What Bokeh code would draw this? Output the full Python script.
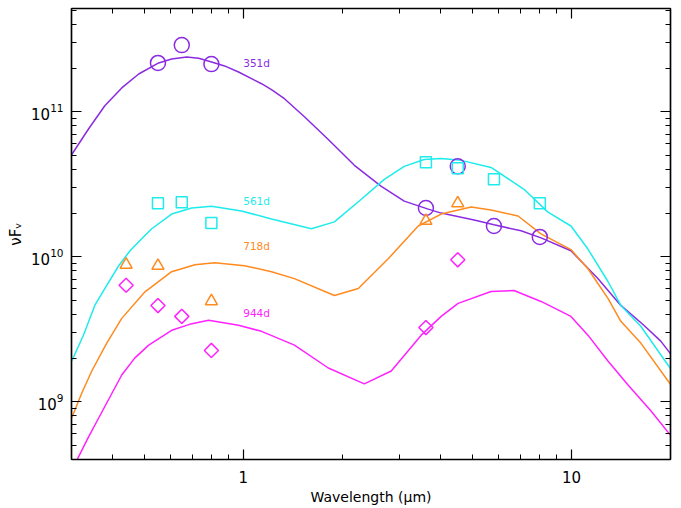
import math
from bokeh.plotting import figure
from bokeh.models import (Range1d, FixedTicker, LogAxis, LogTickFormatter,
                          NumeralTickFormatter, CustomJSTickFormatter)
from bokeh.core.properties import value
from bokeh.embed import file_html
from bokeh.resources import INLINE

# ---------------- data ----------------
epochs = ["351d", "561d", "718d", "944d"]
colors = ["#8A2BE2", "#1EEBEB", "#FF8A1E", "#FF22FF"]

# photometry
wl_351 = [0.55, 0.65, 0.80, 3.6, 4.5, 5.8, 8.0]
f_351 = [2.17e11, 2.88e11, 2.13e11, 2.17e10, 4.2e10, 1.63e10, 1.37e10]
wl_561 = [0.55, 0.65, 0.80, 3.6, 4.5, 5.8, 8.0]
f_561 = [2.34e10, 2.38e10, 1.71e10, 4.48e10, 4.07e10, 3.42e10, 2.34e10]
wl_718 = [0.44, 0.55, 0.80, 3.6, 4.5]
f_718 = [8.82e9, 8.67e9, 4.94e9, 1.77e10, 2.34e10]
wl_944 = [0.44, 0.55, 0.65, 0.80, 3.6, 4.5]
f_944 = [6.36e9, 4.61e9, 3.88e9, 2.26e9, 3.25e9, 9.53e9]

# model curves
mx_351 = [0.3006, 0.338, 0.3789, 0.4267, 0.4806, 0.5528, 0.6054, 0.6725, 0.7314,
          0.8010, 0.8774, 0.9676, 1.082, 1.137, 1.219, 1.335, 1.536, 1.816, 2.180,
          2.633, 3.092, 3.658, 4.006, 5.047, 5.805, 7.014, 8.067, 9.952, 12.02,
          14.12, 16.59, 18.68, 20.04]
my_351 = [5.07e10, 7.60e10, 1.10e11, 1.46e11, 1.82e11, 2.17e11, 2.31e11, 2.38e11,
          2.34e11, 2.20e11, 2.07e11, 1.88e11, 1.65e11, 1.56e11, 1.42e11, 1.23e11,
          9.24e10, 6.43e10, 4.27e10, 3.06e10, 2.42e10, 2.13e10, 2.00e10, 1.79e10,
          1.66e10, 1.51e10, 1.35e10, 1.10e10, 7.07e9, 4.62e9, 3.37e9, 2.62e9,
          2.13e9]
mx_561 = [0.3006, 0.3264, 0.3532, 0.3841, 0.4178, 0.4522, 0.4908, 0.5264, 0.6054,
          0.6965, 0.8010, 0.9881, 1.219, 1.613, 1.895, 2.289, 2.689, 3.092, 3.557,
          4.006, 4.607, 5.684, 7.161, 8.472, 9.952, 11.21, 12.90, 14.12, 16.24,
          20.04]
my_561 = [1.91e9, 2.89e9, 4.62e9, 6.35e9, 8.67e9, 1.10e10, 1.33e10, 1.56e10,
          1.97e10, 2.17e10, 2.23e10, 2.07e10, 1.82e10, 1.56e10, 1.74e10, 2.49e10,
          3.42e10, 4.20e10, 4.69e10, 4.76e10, 4.62e10, 4.13e10, 2.92e10, 2.03e10,
          1.63e10, 1.13e10, 6.75e9, 4.62e9, 3.32e9, 1.68e9]
mx_718 = [0.3006, 0.3225, 0.3458, 0.3841, 0.4267, 0.5022, 0.6054, 0.7127, 0.8180,
          1.009, 1.219, 1.432, 1.895, 2.241, 2.764, 3.411, 4.006, 4.943, 5.684,
          6.867, 8.067, 9.952, 11.21, 12.90, 14.12, 16.24, 20.04]
my_718 = [7.76e8, 1.15e9, 1.63e9, 2.54e9, 3.76e9, 5.73e9, 7.89e9, 8.81e9, 9.10e9,
          8.67e9, 7.89e9, 7.07e9, 5.41e9, 6.04e9, 9.69e9, 1.63e10, 1.97e10,
          2.20e10, 2.10e10, 1.91e10, 1.44e10, 1.12e10, 8.27e9, 5.16e9, 3.59e9,
          2.54e9, 1.31e9]
mx_944 = [0.3114, 0.3363, 0.3633, 0.4267, 0.4672, 0.5155, 0.6054, 0.6866, 0.7843,
          0.9676, 1.137, 1.432, 1.816, 2.337, 2.823, 3.483, 4.006, 4.511, 5.684,
          6.677, 8.067, 9.952, 11.21, 12.90, 14.83, 17.42, 20.04]
my_944 = [3.95e8, 5.59e8, 7.76e8, 1.53e9, 2.00e9, 2.46e9, 3.11e9, 3.42e9, 3.65e9,
          3.37e9, 3.06e9, 2.46e9, 1.71e9, 1.33e9, 1.63e9, 2.88e9, 3.88e9, 4.77e9,
          5.76e9, 5.85e9, 4.92e9, 3.88e9, 2.88e9, 1.91e9, 1.31e9, 8.67e8, 5.85e8]

label_x = 1.0
label_y = [2.17e11, 2.42e10, 1.19e10, 4.07e9]

x_major = [1, 10]
x_minor = [0.3, 0.4, 0.5, 0.6, 0.7, 0.8, 0.9, 2, 3, 4, 5, 6, 7, 8, 9, 20]
y_major = [1e9, 1e10, 1e11]
y_minor = [4e8, 5e8, 6e8, 7e8, 8e8, 9e8,
           2e9, 3e9, 4e9, 5e9, 6e9, 7e9, 8e9, 9e9,
           2e10, 3e10, 4e10, 5e10, 6e10, 7e10, 8e10, 9e10,
           2e11, 3e11, 4e11, 5e11]

# ---------------- figure ----------------
FONT = "DejaVu Sans"
p = figure(width=680, height=507, x_axis_type="log", y_axis_type="log",
           x_range=Range1d(0.3, 20), y_range=Range1d(4.0e8, 5.15e11),
           output_backend="svg", toolbar_location=None,
           min_border_left=71, min_border_right=10, min_border_top=8,
           min_border_bottom=45)
p.grid.visible = False
p.outline_line_color = "black"
p.outline_line_width = 1.2
p.background_fill_color = "white"
p.border_fill_color = "white"

xt = FixedTicker(ticks=x_major, minor_ticks=x_minor)
yt = FixedTicker(ticks=y_major, minor_ticks=y_minor)

for ax in p.xaxis:
    ax.ticker = xt
    ax.formatter = NumeralTickFormatter(format="0")
    ax.axis_label = "Wavelength (\u03bcm)"
for ax in p.yaxis:
    ax.ticker = yt
    ax.formatter = LogTickFormatter()
    ax.axis_label = "\u03bdF\u1d65"

def style(ax, labels=True):
    ax.major_tick_in = 10
    ax.major_tick_out = 0
    ax.minor_tick_in = 5
    ax.minor_tick_out = 0
    ax.axis_line_color = "black"
    ax.axis_line_width = 1.5
    ax.major_tick_line_color = "black"
    ax.minor_tick_line_color = "black"
    ax.major_tick_line_width = 1.2
    ax.minor_tick_line_width = 1.0
    if labels:
        ax.major_label_text_font = FONT
        ax.major_label_text_font_size = "15px"
        ax.major_label_text_color = "black"
        ax.axis_label_text_font = FONT
        ax.axis_label_text_font_size = "14px"
        ax.axis_label_text_font_style = "normal"
        ax.axis_label_text_color = "black"

for ax in p.xaxis:
    style(ax)
    ax.major_label_standoff = 11
    ax.axis_label_standoff = 3
for ax in p.yaxis:
    style(ax)
    ax.major_label_standoff = 8
    ax.axis_label_standoff = 3
    ax.axis_label_text_font_size = "15px"

blank = CustomJSTickFormatter(code="return ''")
top = LogAxis(ticker=xt, formatter=blank)
right = LogAxis(ticker=yt, formatter=blank)
for ax in (top, right):
    style(ax, labels=False)
    ax.major_label_standoff = 0
p.add_layout(top, "above")
p.add_layout(right, "right")

# curves
curves = [(mx_351, my_351), (mx_561, my_561), (mx_718, my_718), (mx_944, my_944)]
for (mx, my), c in zip(curves, colors):
    p.line(mx, my, line_color=c, line_width=1.5)

# photometry markers
p.scatter(wl_351, f_351, marker="circle", size=15, fill_color=None,
          line_color=colors[0], line_width=1.5)
p.scatter(wl_561, f_561, marker="square", size=11, fill_color=None,
          line_color=colors[1], line_width=1.5)
p.scatter(wl_718, f_718, marker="triangle", size=12, fill_color=None,
          line_color=colors[2], line_width=1.5)
p.scatter(wl_944, f_944, marker="square", size=10, angle=math.pi / 4,
          fill_color=None, line_color=colors[3], line_width=1.5)

# epoch labels
for lab, ly, c in zip(epochs, label_y, colors):
    p.text(x=[label_x], y=[ly], text=[lab], text_color=c,
           text_font=value(FONT), text_font_size="10.5px",
           text_baseline="middle", text_align="left")

open("out.html", "w").write(file_html(p, INLINE))
